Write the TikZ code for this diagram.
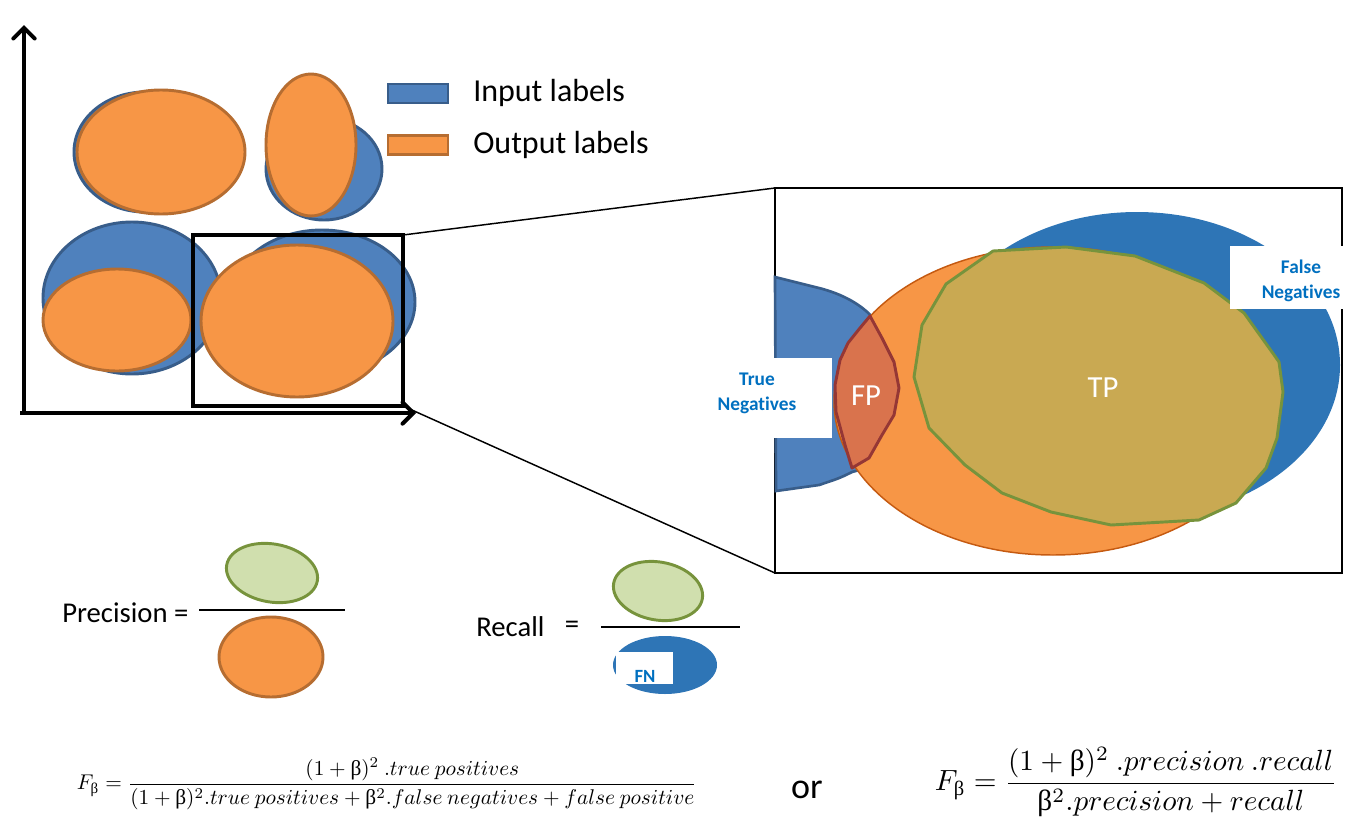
\documentclass[tikz,border=0pt]{standalone}
\usepackage{fontspec}
\usepackage{graphicx}
\setmainfont{Carlito}[Ligatures=NoCommon]
\newfontfamily\serifg{Liberation Serif}
\newcommand{\ub}{\mathchoice{\mbox{\serifg β}}{\mbox{\serifg β}}{\mbox{\serifg\fontsize{7}{8}\selectfont β}}{\mbox{\serifg\fontsize{5}{6}\selectfont β}}}
\usetikzlibrary{arrows.meta}
\definecolor{inblue}{HTML}{4F81BD}
\definecolor{inblueD}{HTML}{385D8A}
\definecolor{outor}{HTML}{F79646}
\definecolor{outorD}{HTML}{B66D31}
\definecolor{fnblue}{HTML}{2E75B6}
\definecolor{grnL}{HTML}{D0DFAE}
\definecolor{grnD}{HTML}{77933C}
\definecolor{tpfill}{HTML}{C9A952}
\definecolor{fpfill}{HTML}{D9734D}
\definecolor{fpD}{HTML}{953735}
\definecolor{lblue}{HTML}{0070C0}
\definecolor{orEdge}{HTML}{C55A11}
\begin{document}
\begin{tikzpicture}[x=0.75pt,y=-0.75pt,
  inp/.style={fill=inblue,draw=inblueD,line width=2.2pt},
  outp/.style={fill=outor,draw=outorD,line width=2.2pt},
  grn/.style={fill=grnL,draw=grnD,line width=2.2pt},
  axis/.style={line width=3pt,-{Straight Barb[length=8pt,width=16pt,line cap=round]}},
  thin/.style={line width=1.1pt},
  bar/.style={line width=2.2pt},
  lbl/.style={font=\fontsize{24}{28}\selectfont,anchor=west,inner sep=0pt},
  big/.style={font=\fontsize{21.5}{26}\selectfont,inner sep=0pt},
  whitebox/.style={fill=white,draw=none,inner sep=0pt},
  bluetxt/.style={text=lblue,font=\bfseries\fontsize{14.5}{18.75}\selectfont,align=center,inner sep=0pt},
  wtxt/.style={text=white,font=\fontsize{23}{27}\selectfont,inner sep=0pt}
]
\path[use as bounding box] (0,0) rectangle (1366,835);

% axes
\coordinate (orig) at (24,413);
\coordinate (xstart) at (20,413);
\coordinate (ytip) at (24,25);
\coordinate (xtip) at (416,413);
\draw[axis] (orig) -- (ytip);
\draw[axis] (xstart) -- (xtip);

% scatter of label pairs
\path[inp] (145,152) ellipse [x radius=71,y radius=60];
\path[outp] (161,152) ellipse [x radius=84,y radius=62];
\path[inp] (324,169) ellipse [x radius=58,y radius=51];
\path[outp] (311,145) ellipse [x radius=45,y radius=71];
\path[inp] (132,298) ellipse [x radius=89,y radius=76];
\path[outp] (117,320) ellipse [x radius=74,y radius=51];
\path[inp] (322,302) ellipse [x radius=93,y radius=72];
\path[outp] (297,321) ellipse [x radius=96,y radius=76];

% zoom rectangle
\node[draw,line width=3pt,minimum width=157.5pt,minimum height=128.25pt,inner sep=0pt,outer sep=0pt] (zr) at (298,320.5) {};

% legend
\node[inp,minimum width=45pt,minimum height=14.25pt,inner sep=0pt] (leg1) at (418,93.5) {};
\node[outp,minimum width=45pt,minimum height=14.25pt,inner sep=0pt] (leg2) at (418,145) {};
\node[lbl] (lt1) at (473,93) {Input labels};
\node[lbl] (lt2) at (473,145) {Output labels};

% inset box
\node[draw,line width=2pt,minimum width=425.25pt,minimum height=288.75pt,inner sep=0pt,outer sep=0pt] (bb) at (1058.5,380.5) {};
\draw[thin] (zr.north east) -- (bb.north west);
\draw[thin] (zr.south east) -- (bb.south west);

% inset contents
\path[fill=fnblue] (1137,365) ellipse [x radius=203,y radius=153];
\path[inp,line width=2pt] (775,277) -- (819,288) .. controls (850,296) and (868,310) .. (878,324)
  -- (878,465) -- (852,472) .. controls (840,478) .. (819,485) -- (776,491) -- cycle;
\path[fill=outor,draw=orEdge,line width=1.1pt] (1053,401) ellipse [x radius=219,y radius=154];
\path[fill=fpfill,draw=fpD,line width=2.2pt,line join=round]
  (870,316) -- (882,338) -- (894,362) -- (899,388) -- (894,415) -- (882,435) -- (869,458)
  -- (852,468) -- (845,445) -- (836,412) -- (835,385) -- (840,360) -- (848,343) -- (860,328) -- cycle;
\path[fill=tpfill,draw=grnD,line width=2.2pt,line join=round]
  (993,251) -- (1066,247) -- (1135,256) -- (1204,283) -- (1244,313) -- (1272,352) -- (1279,362)
  -- (1283,392) -- (1277,438) -- (1266,468) -- (1236,503) -- (1199,520) -- (1111,525)
  -- (1051,512) -- (1002,493) -- (965,465) -- (929,428) -- (914,377) -- (922,325) -- (946,284) -- cycle;
\node[wtxt] (tp) at (1103,388) {TP};
\node[wtxt] (fp) at (866,396) {FP};

\node[whitebox,minimum width=106.5pt,minimum height=60pt] (tnbox) at (761,398) {};
\node[bluetxt] (tn) at (757,393) {True\\Negatives};
\node[whitebox,minimum width=86.25pt,minimum height=47.25pt] (fnbox) at (1287.5,277.5) {};
\node[bluetxt] (fnl) at (1301,281) {False\\Negatives};

% precision
\node[big,anchor=west] (prec) at (62,613) {Precision =};
\coordinate (pb1) at (199,610);
\coordinate (pb2) at (345,610);
\draw[bar] (pb1) -- (pb2);
\path[grn,rotate around={-10:(272,573)}] (272,573) ellipse [x radius=46,y radius=29];
\path[outp] (271,657) ellipse [x radius=52,y radius=40];

% recall
\node[big,anchor=west] (rec) at (476,627) {Recall};
\node[big] (receq) at (572,627) {=};
\coordinate (rb1) at (601,627);
\coordinate (rb2) at (740,627);
\draw[bar] (rb1) -- (rb2);
\path[grn,rotate around={-10:(658,591)}] (658,591) ellipse [x radius=45,y radius=29];
\path[fill=fnblue] (665,665) ellipse [x radius=52,y radius=29];
\node[whitebox,minimum width=42.75pt,minimum height=24pt] (fnb) at (644.5,668) {};
\node[text=lblue,font=\bfseries\fontsize{14}{16}\selectfont,inner sep=0pt] (fnt) at (645,676) {FN};

% formulas
\node[inner sep=0pt] (fl) at (387,784) {\resizebox{465pt}{!}{$F_{\ub} = \displaystyle\frac{(1+\ub)^2\ .true\ positives}{(1+\ub)^2.true\ positives+\ub^2.false\ negatives+false\ positive}$}};
\node[inner sep=0pt,font=\fontsize{27}{30}\selectfont] (or) at (807,790) {or};
\node[inner sep=0pt] (fr) at (1136,782) {\resizebox{301.5pt}{!}{$F_{\ub} = \displaystyle\frac{(1+\ub)^2\ .precision\ .recall}{\ub^2.precision+recall}$}};
\end{tikzpicture}
\end{document}
